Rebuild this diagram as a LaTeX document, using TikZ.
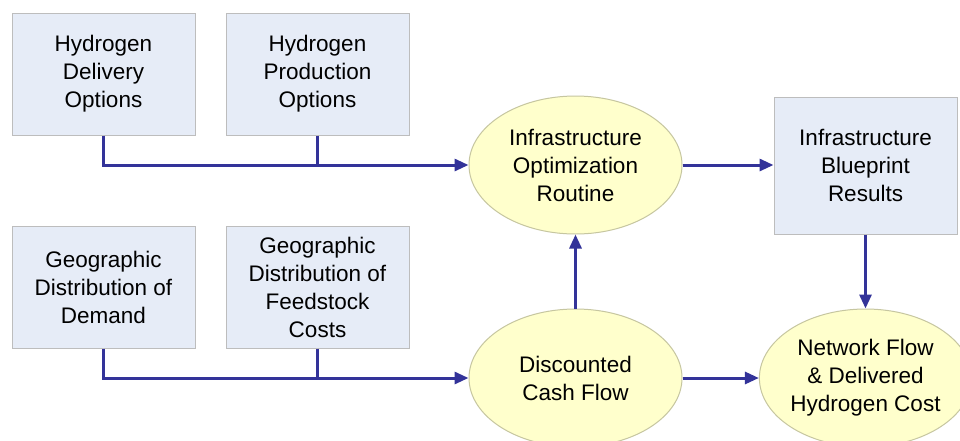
\documentclass[tikz,border=0pt]{standalone}
\usepackage{fontspec}
\setmainfont{Liberation Sans}
\usetikzlibrary{shapes.geometric,arrows.meta}
\definecolor{boxfill}{HTML}{E6ECF7}
\definecolor{boxline}{HTML}{BDBDBD}
\definecolor{ellfill}{HTML}{FFFFCC}
\definecolor{ellline}{HTML}{C6C6A0}
\definecolor{arrcol}{HTML}{333399}
\tikzset{
  base/.style={align=center,inner sep=0pt,font=\fontsize{22.5}{28}\selectfont,line width=1pt},
  boxnode/.style={base,rectangle,draw=boxline,fill=boxfill,minimum width=183pt,minimum height=122pt},
  ellnode/.style={base,ellipse,draw=ellline,fill=ellfill,minimum width=213pt,minimum height=138pt},
  conn/.style={draw=arrcol,line width=3pt},
  arr/.style={conn,-{Triangle[length=14pt,width=12pt]}}
}
\begin{document}
\begin{tikzpicture}[x=1pt,y=-1pt]
\useasboundingbox (0,0) rectangle (960,440);
\clip (0,0) rectangle (960,440);
\fill[white] (0,0) rectangle (960,440);
\node[boxnode] (b1) at (103.5,74) {Hydrogen\\Delivery\\Options};
\node[boxnode] (b2) at (317.5,74) {Hydrogen\\Production\\Options};
\node[boxnode] (b3) at (103.5,287) {Geographic\\Distribution of\\Demand};
\node[boxnode] (b4) at (317.5,287) {Geographic\\Distribution of\\Feedstock\\Costs};
\node[boxnode,minimum height=137pt] (b5) at (865.5,165.5) {Infrastructure\\Blueprint\\Results};
\node[ellnode] (e1) at (575.5,165) {Infrastructure\\Optimization\\Routine};
\node[ellnode] (e2) at (575.5,378) {Discounted\\Cash Flow};
\node[ellnode,minimum width=212pt] (e3) at (865.5,378) {Network Flow\\\&~Delivered\\Hydrogen Cost};
\draw[arr] (b1.south) |- (e1.west);
\draw[conn] (b2.south) -- (b2.south |- e1.west);
\draw[arr] (b3.south) |- (e2.west);
\draw[conn] (b4.south) -- (b4.south |- e2.west);
\draw[arr] (e1.east) -- (b5.west |- e1.east);
\draw[arr] (e2.north) -- (e1.south);
\draw[arr] (e2.east) -- (e3.west);
\draw[arr] (b5.south) -- (e3.north);
\end{tikzpicture}
\end{document}
